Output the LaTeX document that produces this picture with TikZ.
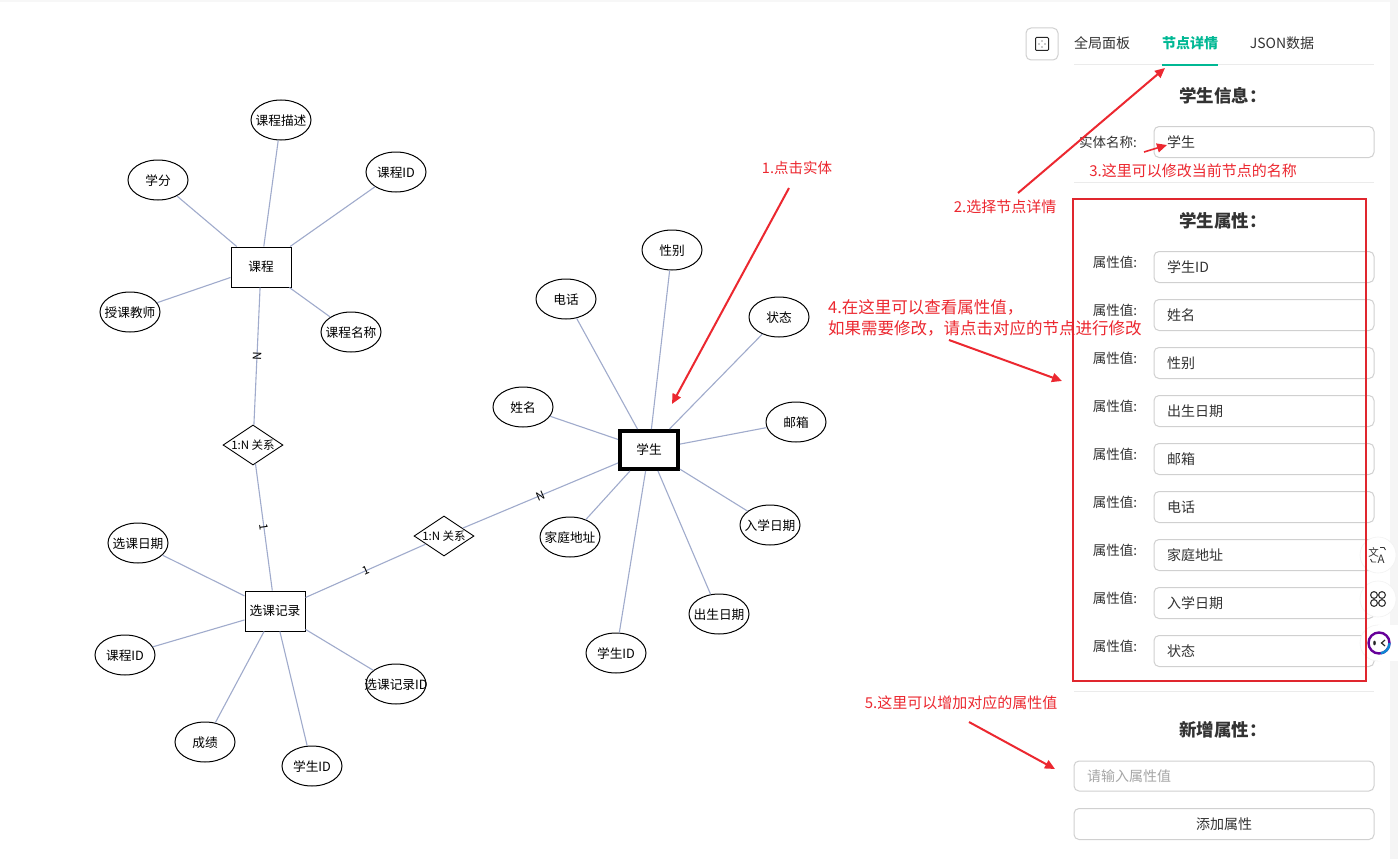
\documentclass[tikz,border=0pt]{standalone}
\usepackage{fontspec}
\setmainfont{Noto Sans CJK SC}
\usetikzlibrary{shapes.geometric,arrows.meta}
\definecolor{edgeblue}{HTML}{A0ABCC}
\definecolor{annored}{HTML}{EC2830}
\definecolor{teal}{HTML}{00B894}
\definecolor{fieldgray}{HTML}{D0D0D0}
\definecolor{rulegray}{HTML}{EBEBEB}
\definecolor{inktext}{HTML}{333333}
\tikzset{
 x=1pt,y=-1pt,
 base/.style={font=\fontsize{12.7}{15}\selectfont,text=black,align=center},
 attr/.style={base,ellipse,draw=black,line width=1pt,fill=white,minimum width=60pt,minimum height=40pt,inner xsep=-16pt,inner ysep=0pt,text height=12.5pt,text depth=1.5pt},
 entity/.style={base,rectangle,draw=black,line width=1pt,fill=white,minimum width=60pt,minimum height=40pt,inner sep=0pt},
 chosen/.style={entity,line width=4pt,minimum width=58pt,minimum height=38pt},
 rel/.style={base,font=\fontsize{11.5}{14}\selectfont,diamond,aspect=1.5,draw=black,line width=.9pt,fill=white,minimum width=60pt,minimum height=40pt,inner xsep=-24pt,inner ysep=-7pt},
 link/.style={draw=edgeblue,line width=1.1pt},
 elabel/.style={font=\fontsize{11.5}{12}\selectfont,text=black,inner sep=0pt,midway,sloped},
 anno/.style={font=\fontsize{15}{21}\selectfont,text=annored,inner sep=0pt,align=left},
 annoarrow/.style={draw=annored,line width=2pt,-{Triangle[length=10pt,width=9pt]}},
 field/.style={draw=fieldgray,line width=1pt,fill=white,rounded corners=5pt},
 fieldtext/.style={font=\fontsize{14}{16}\selectfont,text=inktext,anchor=west,inner sep=0pt},
 flabel/.style={font=\fontsize{13.5}{16}\selectfont,text=inktext,inner sep=0pt},
 heading/.style={font=\fontsize{17.5}{20}\selectfont\bfseries,text=inktext,inner sep=0pt},
 tabtext/.style={font=\fontsize{14}{16}\selectfont,text=inktext,inner sep=0pt},
 divider/.style={draw=rulegray,line width=1pt},
 floatc/.style={circle,fill=white,draw=black!5,line width=.6pt,minimum size=36pt,inner sep=0pt},
}
\begin{document}
\begin{tikzpicture}
\useasboundingbox (0,0) rectangle (1398,859);
\fill[white] (0,0) rectangle (1398,859);
\fill[black!3] (0,0) rectangle (1398,2);
\fill[black!4] (1390,0) rectangle (1398,859);

% graph nodes
\node[entity] (course) at (261,267) {课程};
\node[attr] (c1) at (281,120) {课程描述};
\node[attr] (c2) at (158,180) {学分};
\node[attr] (c3) at (396,172) {课程ID};
\node[attr] (c4) at (130,312) {授课教师};
\node[attr] (c5) at (351,332) {课程名称};
\node[rel] (r1) at (253,445) {1:N 关系};
\node[entity] (rec) at (275,611) {选课记录};
\node[attr] (e1) at (138,543) {选课日期};
\node[attr] (e2) at (125,655) {课程ID};
\node[attr] (e3) at (205,742) {成绩};
\node[attr] (e4) at (312,766) {学生ID};
\node[attr] (e5) at (396,684) {选课记录ID};
\node[rel] (r2) at (444,536) {1:N 关系};
\node[chosen] (stu) at (649,450) {学生};
\node[attr] (s1) at (672,250) {性别};
\node[attr] (s2) at (566,299) {电话};
\node[attr] (s3) at (779,317) {状态};
\node[attr] (s4) at (523,407) {姓名};
\node[attr] (s5) at (796,422) {邮箱};
\node[attr] (s6) at (570,537) {家庭地址};
\node[attr] (s7) at (770,525) {入学日期};
\node[attr] (s8) at (719,614) {出生日期};
\node[attr] (s9) at (616,653) {学生ID};

% connectors
\foreach \a in {c1,c2,c3,c4,c5} \draw[link] (course) -- (\a);
\foreach \a in {e1,e2,e3,e4,e5} \draw[link] (rec) -- (\a);
\foreach \a in {s1,s2,s3,s4,s5,s6,s7,s8,s9} \draw[link] (stu) -- (\a);
\draw[link] (course) -- node[elabel]{N} (r1);
\draw[link] (r1) -- node[elabel]{1} (rec);
\draw[link] (rec) -- node[elabel]{1} (r2);
\draw[link] (r2) -- node[elabel]{N} (stu);

% top bar
\node[draw=fieldgray,line width=1pt,rounded corners=5pt,minimum size=32pt,inner sep=0pt] (fitbtn) at (1042,44) {};
\draw[black!85,line width=1pt,rounded corners=1pt] (1035.5,37.5) rectangle (1048.5,50.5);
\foreach \p/\q in {1042/41,1042/47,1039/44,1045/44} \fill[black!85] (\p,\q) circle (.7);
\node[tabtext] (t1) at (1102,43) {全局面板};
\node[tabtext,text=teal,font=\fontsize{14}{16}\selectfont\bfseries] (t2) at (1190,43) {节点详情};
\node[tabtext] (t3) at (1282,43) {JSON数据};
\draw[divider] (1074,65) -- (1374,65);
\draw[teal,line width=2pt] (1162,65) -- (1218,65);

% entity info
\node[heading] (h1) at (1223,96) {学生信息：};
\node[flabel] (l0) at (1108,142) {实体名称:};
\draw[field] (1154,126.5) rectangle (1374,157.5);
\node[fieldtext] (f0) at (1167,142.5) {学生};
\draw[divider] (1074,182) -- (1374,182);

% attribute list
\node[heading] (h2) at (1223,221) {学生属性：};
\foreach \i/\t in {0/学生ID,1/姓名,2/性别,3/出生日期,4/邮箱,5/电话,6/家庭地址,7/入学日期,8/状态}{
  \pgfmathsetmacro{\yy}{267+48*\i}
  \pgfmathsetmacro{\yl}{262+48*\i}
  \node[flabel] at (1115,\yl) {属性值:};
  \draw[field] (1154,\yy-15.5) rectangle (1374,\yy+15.5);
  \node[fieldtext] at (1167,\yy) {\t};
}
\draw[divider] (1074,691) -- (1374,691);

% new attribute
\node[heading] (h3) at (1223,730) {新增属性：};
\draw[field] (1074,761) rectangle (1374,791);
\node[fieldtext,text=black!35] (ph) at (1087,776) {请输入属性值};
\draw[field] (1074,808.5) rectangle (1374,839.5);
\node[tabtext] (addb) at (1224,824) {添加属性};

% annotations
\node[anno,font=\fontsize{14.5}{21}\selectfont] (a1) at (797,168) {1.点击实体};
\node[anno] (a2) at (1005,207) {2.选择节点详情};
\node[anno] (a3) at (1193,171) {3.这里可以修改当前节点的名称};
\node[anno,anchor=west,font=\fontsize{16.5}{21}\selectfont] (a4) at (828,317.5) {4.在这里可以查看属性值，\\如果需要修改，请点击对应的节点进行修改};
\node[anno] (a5) at (961,703) {5.这里可以增加对应的属性值};
\coordinate (a1s) at (789,188); \coordinate (a1e) at (672,404);
\coordinate (a2s) at (1018,193); \coordinate (a2e) at (1165,68);
\coordinate (a3s) at (1144,152); \coordinate (a3e) at (1167,145);
\coordinate (a4s) at (949,340); \coordinate (a4e) at (1062,381);
\coordinate (a5s) at (969,722); \coordinate (a5e) at (1055,769);
\draw[annoarrow] (a1s) -- (a1e);
\draw[annoarrow] (a2s) -- (a2e);
\draw[annoarrow,line width=1.6pt] (a3s) -- (a3e);
\draw[annoarrow] (a4s) -- (a4e);
\draw[annoarrow] (a5s) -- (a5e);

% floating widgets
\node[floatc] (w1) at (1378,555) {};
\node[font=\fontsize{10.5}{10}\selectfont,text=inktext,inner sep=0pt] at (1373.5,552) {文};
\node[font=\fontsize{11.5}{10}\selectfont,text=inktext,inner sep=0pt] at (1381,559) {A};
\draw[inktext,line width=.9pt] (1380,547.5) -- (1384,547.5) -- (1385.5,550);
\draw[inktext,line width=.9pt] (1376,562) -- (1372,562) -- (1370.5,559);
\node[floatc] (w2) at (1378,599) {};
\foreach \p/\q in {1374/595,1382/595,1374/603,1382/603}
  \draw[inktext,line width=1.1pt] (\p,\q) circle (3.4);
\node[floatc] (w3) at (1378,643) {};
\fill[white] (1378,625) rectangle (1398,661);
\draw[line width=2.4pt,draw=violet!80!blue] (1379,643) circle (10.5);
\draw[line width=2.4pt,draw=cyan!70!blue] (1389.5,643) arc (0:80:10.5);
\fill[black!85] (1374.5,643) ellipse (1.3 and 2.4);
\draw[black!85,line width=1.2pt] (1385,640) -- (1381.5,643) -- (1385,646);

% red box
\draw[annored!95!black,line width=2pt] (1073,198.5) rectangle (1366,681);
\end{tikzpicture}
\end{document}
